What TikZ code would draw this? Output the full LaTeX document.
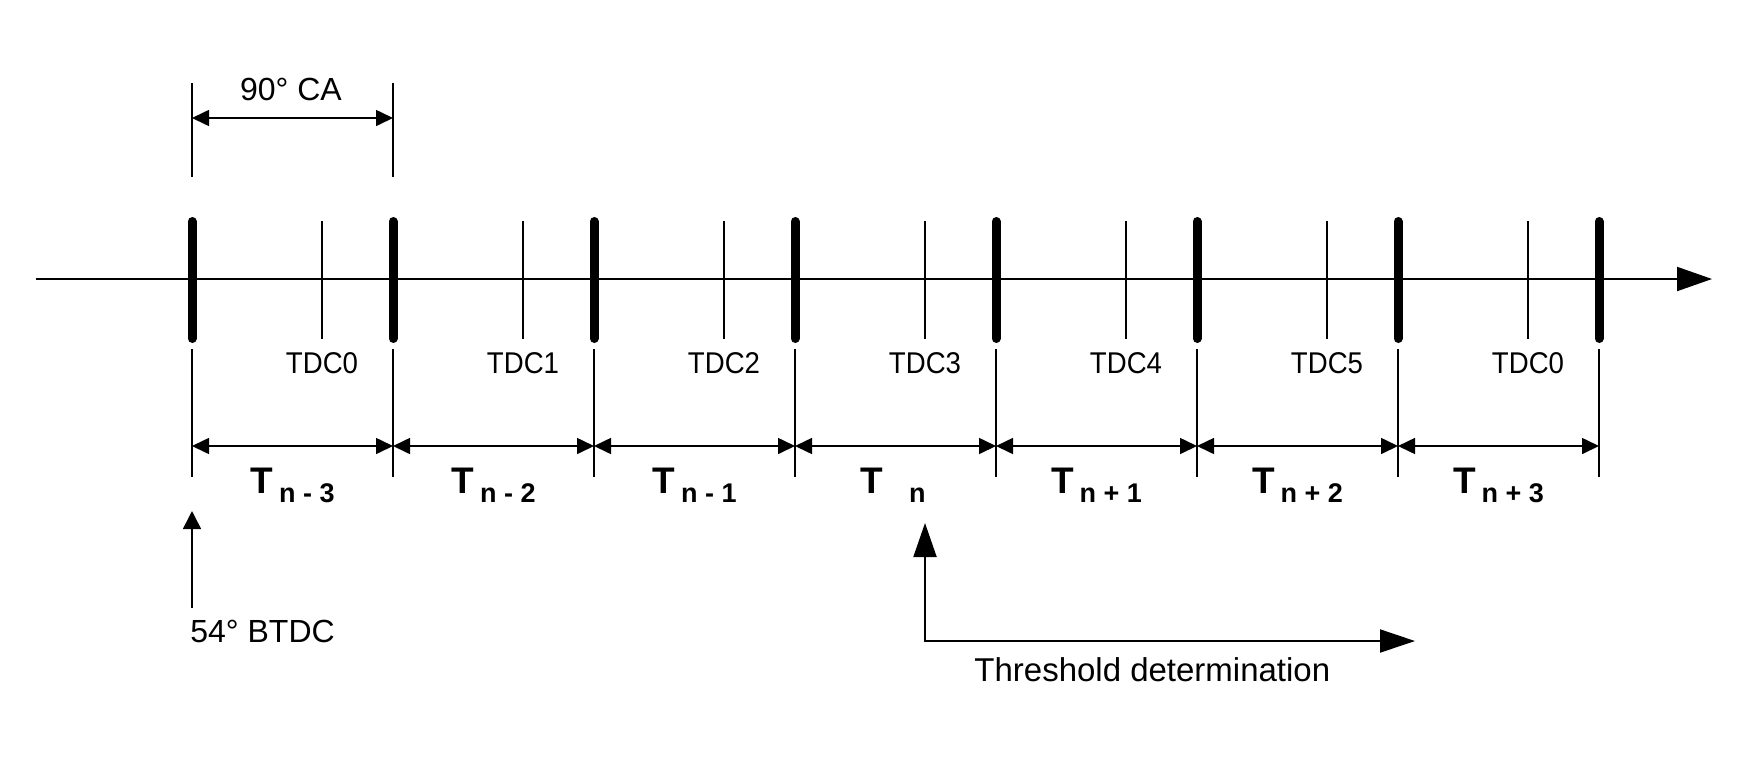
\documentclass[tikz,border=0pt]{standalone}
\usepackage{fontspec}
\setmainfont{Liberation Sans}
\usetikzlibrary{arrows.meta}
\newcommand{\lblfont}{\fontsize{16pt}{19pt}\selectfont}
\newcommand{\tdcfont}{\fontsize{15pt}{18pt}\selectfont}
\newcommand{\Tfont}{\fontsize{18.5pt}{21pt}\selectfont\bfseries}
\newcommand{\Tsubfont}{\fontsize{13.5pt}{16pt}\selectfont\bfseries}
\newcommand{\Tlab}[1]{{\Tfont T}\hspace{3pt}\raisebox{-4.5pt}{\Tsubfont #1}}
\begin{document}
\begin{tikzpicture}[x=0.5pt,y=-0.5pt,
  thinline/.style={line width=0.8pt},
  barline/.style={line width=4.5pt, line cap=round},
  dimline/.style={line width=0.8pt, {Triangle[length=8.5pt,width=8pt]}-{Triangle[length=8.5pt,width=8pt]}},
  bigtip/.style={line width=1pt, {Triangle[length=17pt,width=11.5pt]}-{Triangle[length=17.5pt,width=11.5pt]}},
  txt/.style={inner sep=0pt, font=\lblfont},
  tdc/.style={inner sep=0pt, anchor=base, font=\tdcfont},
  tlab/.style={inner sep=0pt, anchor=base}]
\useasboundingbox (0,0) rectangle (1749,756);

% main axis
\coordinate (axL) at (36,279);
\coordinate (axR) at (1712,279);
\draw[line width=1pt,-{Triangle[length=17.5pt,width=12pt]}] (axL) -- (axR);

% bars, extension lines
\foreach \i in {0,...,7} {
  \pgfmathsetmacro\xx{192+201*\i}
  \coordinate (bt\i) at (\xx,221.5);
  \coordinate (bb\i) at (\xx,338.5);
  \coordinate (et\i) at (\xx,349);
  \coordinate (eb\i) at (\xx,477);
  \coordinate (d\i) at (\xx,446);
  \draw[barline] (bt\i) -- (bb\i);
  \draw[thinline] (et\i) -- (eb\i);
}

% TDC ticks and labels
\foreach \i/\lab in {0/TDC0,1/TDC1,2/TDC2,3/TDC3,4/TDC4,5/TDC5,6/TDC0} {
  \pgfmathsetmacro\xx{192+201*\i+130}
  \coordinate (tt\i) at (\xx,221);
  \coordinate (tb\i) at (\xx,339);
  \draw[thinline] (tt\i) -- (tb\i);
  \node[tdc] (tdc\i) at (\xx,373) {\scalebox{0.92}[1]{\lab}};
}

% dimension arrows and T labels
\foreach \i/\j/\sub in {0/1/n - 3,1/2/n - 2,2/3/n - 1,4/5/n + 1,5/6/n + 2,6/7/n + 3} {
  \draw[dimline] (d\i) -- (d\j);
  \pgfmathsetmacro\xm{192+201*\i+100.5}
  \node[tlab] (T\i) at (\xm,493) {\Tlab{\sub}};
}
\draw[dimline] (d3) -- (d4);
\node[tlab] (T3) at (893,493) {{\Tfont T}\hspace{13pt}\raisebox{-4.5pt}{\Tsubfont n}};

% 90 deg CA
\coordinate (ca0t) at (192,83);
\coordinate (ca0b) at (192,177);
\coordinate (ca1t) at (393,83);
\coordinate (ca1b) at (393,177);
\draw[thinline] (ca0t) -- (ca0b);
\draw[thinline] (ca1t) -- (ca1b);
\coordinate (ca0) at (192,118);
\coordinate (ca1) at (393,118);
\draw[dimline] (ca0) -- (ca1);
\node[txt, anchor=base] (ca) at (291,100) {90° CA};

% 54 deg BTDC
\coordinate (btdcA) at (192,608);
\coordinate (btdcB) at (192,511);
\draw[line width=0.8pt,-{Triangle[length=9pt,width=9pt]}] (btdcA) -- (btdcB);
\node[txt, anchor=base west] (btdc) at (190,642) {54° BTDC};

% threshold determination
\coordinate (thA) at (925,523);
\coordinate (thC) at (925,641);
\coordinate (thB) at (1415,641);
\draw[bigtip] (thA) -- (thC) -- (thB);
\node[txt, anchor=base west, font=\fontsize{16.5pt}{19pt}\selectfont] (thr) at (974,681) {Threshold determination};
\end{tikzpicture}
\end{document}
